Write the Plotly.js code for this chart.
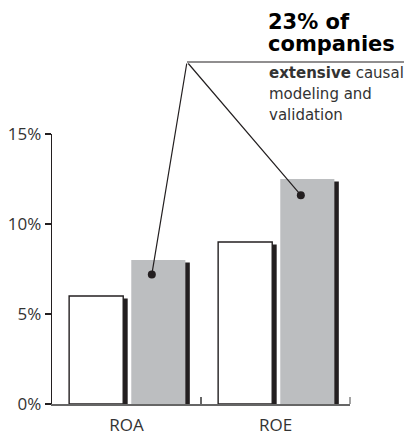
<!DOCTYPE html>
<html>
<head>
<meta charset="utf-8">
<script src="https://cdn.plot.ly/plotly-3.0.1.min.js"></script>
<style>html,body{margin:0;padding:0;background:#fff;}#chart{width:404px;height:436px;}</style>
</head>
<body>
<div id="chart"></div>
<script>
// ---- data ----
var categories = ['ROA', 'ROE'];
var allCompanies = [6.0, 9.0];        // white bars
var extensiveModeling = [8.0, 12.5];  // gray bars (23% of companies)
var calloutPoints = [7.2, 11.6];      // where the callout lines end on the gray bars
var yTickValues = [0, 5, 10, 15];
var yTickLabels = ['0%', '5%', '10%', '15%'];
var titleLines = ['23% of', 'companies'];
var noteLines = ['<b>extensive</b> causal', 'modeling and', 'validation'];

// ---- layout geometry ----
var W = 404, H = 436;
var M = {l: 52, r: 54, t: 134, b: 32};
var plotW = W - M.l - M.r, plotH = H - M.t - M.b;
function px2paperX(px) { return (px - M.l) / plotW; }
function px2paperY(py) { return (H - M.b - py) / plotH; }

var barW = 0.363, whiteOff = -0.385, grayOff = 0.032;
var shadowDx = 0.03, shadowDy = 0.14;
var dark = '#231f20', gray = '#bcbec0', axisGray = '#666666';

function shifted(arr) { return arr.map(function (v) { return v - shadowDy; }); }

var traces = [
  {type: 'bar', x: categories, y: shifted(allCompanies), width: barW, offset: whiteOff + shadowDx,
   marker: {color: dark, line: {width: 0}}},
  {type: 'bar', x: categories, y: allCompanies, width: barW, offset: whiteOff,
   marker: {color: '#ffffff', line: {color: dark, width: 1.4}}},
  {type: 'bar', x: categories, y: shifted(extensiveModeling), width: barW, offset: grayOff + shadowDx,
   marker: {color: dark, line: {width: 0}}},
  {type: 'bar', x: categories, y: extensiveModeling, width: barW, offset: grayOff,
   marker: {color: gray, line: {width: 0}}}
];

var apexX = px2paperX(187), apexY = px2paperY(62);
var dotOff = 0.17;

var shapes = [
  {type: 'line', xref: 'paper', yref: 'paper', x0: apexX, y0: apexY, x1: px2paperX(404), y1: apexY,
   line: {color: dark, width: 1.2}},
  // closing boundary tick at the right end of the category axis
  {type: 'line', xref: 'paper', yref: 'paper', x0: 1, x1: 1, y0: 0, y1: 7 / plotH,
   line: {color: axisGray, width: 1.2}}
];
var annotations = [];
categories.forEach(function (c, i) {
  var dx = i + dotOff, dy = calloutPoints[i];
  shapes.push({type: 'circle', xref: 'x', yref: 'y', xsizemode: 'pixel', ysizemode: 'pixel',
    xanchor: dx, yanchor: dy, x0: -4, x1: 4, y0: -4, y1: 4,
    fillcolor: dark, line: {color: dark, width: 0}, layer: 'above'});
  annotations.push({xref: 'x', yref: 'y', x: dx, y: dy, axref: 'x', ayref: 'y',
    ax: -0.5 + apexX * 2, ay: apexY * 15, text: '', showarrow: true, arrowhead: 0,
    arrowwidth: 1.2, arrowcolor: dark, standoff: 0, startstandoff: 0});
});

var titleFont = {family: 'DejaVu Sans', size: 21, color: '#000000'};
annotations.push({xref: 'paper', yref: 'paper', x: px2paperX(267), y: px2paperY(22), xanchor: 'left', yanchor: 'middle',
  text: '<b>' + titleLines[0] + '</b>', showarrow: false, font: titleFont, borderpad: 0});
annotations.push({xref: 'paper', yref: 'paper', x: px2paperX(267), y: px2paperY(44), xanchor: 'left', yanchor: 'middle',
  text: '<b>' + titleLines[1] + '</b>', showarrow: false, font: titleFont, borderpad: 0});
var noteFont = {family: 'DejaVu Sans', size: 15, color: '#333333'};
var noteY = [72.7, 93.7, 114.7];
noteLines.forEach(function (t, i) {
  annotations.push({xref: 'paper', yref: 'paper', x: px2paperX(268), y: px2paperY(noteY[i]), xanchor: 'left', yanchor: 'middle',
    text: t, showarrow: false, font: noteFont, borderpad: 0});
});

var layout = {
  width: W, height: H,
  margin: M,
  paper_bgcolor: '#ffffff', plot_bgcolor: '#ffffff',
  showlegend: false,
  barmode: 'overlay',
  hovermode: false,
  font: {family: 'Open Sans', size: 17, color: '#333333'},
  xaxis: {type: 'category', range: [-0.5, 1.5], fixedrange: true,
    showline: true, linecolor: axisGray, linewidth: 1.5,
    ticks: 'inside', tickson: 'boundaries', ticklen: 7, tickcolor: axisGray, tickwidth: 1.2,
    ticklabelstandoff: 5, showgrid: false, zeroline: false,
    tickfont: {family: 'Open Sans', size: 17, color: '#333333'}},
  yaxis: {range: [0, 15], fixedrange: true, tickmode: 'array', tickvals: yTickValues, ticktext: yTickLabels,
    showline: true, linecolor: dark, linewidth: 1.3,
    ticks: 'outside', ticklen: 6, tickcolor: dark, tickwidth: 1.3,
    showgrid: false, zeroline: false,
    tickfont: {family: 'Open Sans', size: 17, color: '#333333'}},
  shapes: shapes,
  annotations: annotations
};

Plotly.newPlot('chart', traces, layout, {staticPlot: true, displayModeBar: false});
</script>
</body>
</html>
